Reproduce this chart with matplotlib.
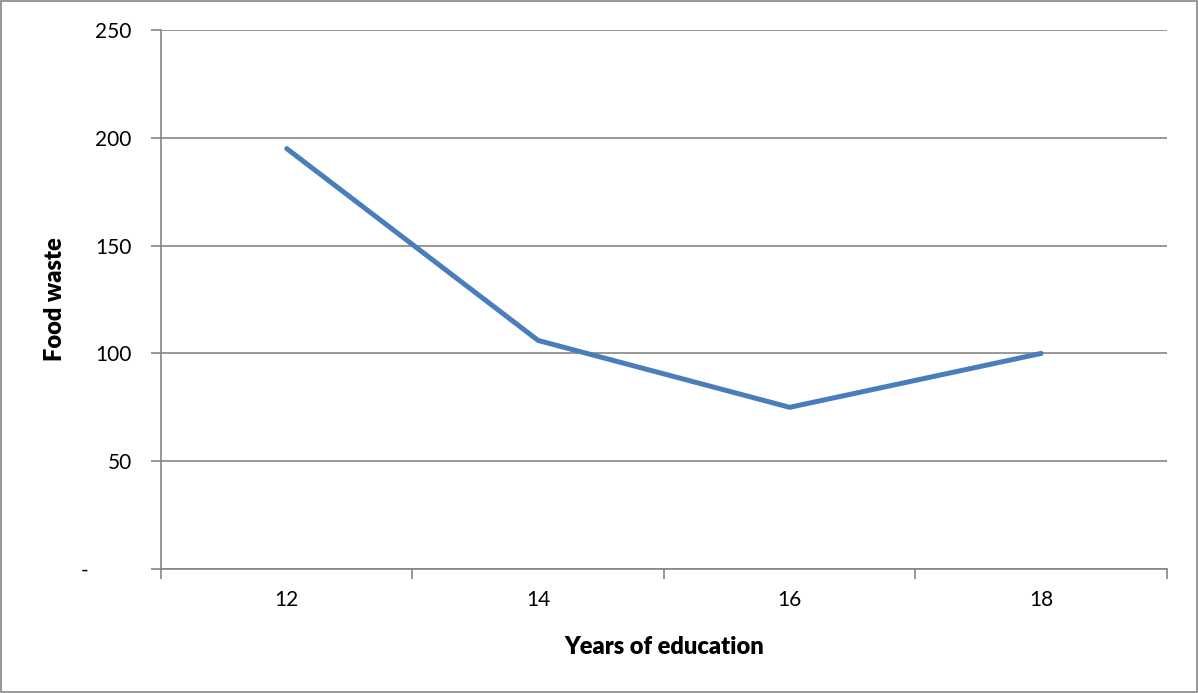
import matplotlib
matplotlib.use("Agg")
import matplotlib.pyplot as plt
from matplotlib.patches import Rectangle
from matplotlib.ticker import FixedLocator

years = ["12", "14", "16", "18"]
food_waste = [195, 106, 75, 100]
y_ticks = [0, 50, 100, 150, 200, 250]
# accounting-style zero: a dash padded to the left of the number column
y_tick_labels = ["-" + " " * 8, "50", "100", "150", "200", "250"]

plt.rcParams["font.family"] = ["Lato", "DejaVu Sans"]

fig = plt.figure(figsize=(11.98, 6.93), dpi=100)
ax = fig.add_axes([0.1344, 0.1789, 0.8396, 0.7778])

x = list(range(len(years)))
ax.plot(x, food_waste, color="#4a7ebb", linewidth=3.6,
        solid_capstyle="round", solid_joinstyle="round", zorder=3)

ax.set_xlim(-0.5, len(years) - 0.5)
ax.set_ylim(0, 250)

grid_color = "#868686"
ax.set_yticks(y_ticks)
ax.set_yticklabels(y_tick_labels, fontsize=15)
ax.yaxis.grid(True, color=grid_color, linewidth=1.2)
ax.set_axisbelow(True)

# category labels sit between the boundary tick marks
ax.xaxis.set_major_locator(FixedLocator([i - 0.5 for i in range(len(years) + 1)]))
ax.set_xticklabels([])
ax.xaxis.set_minor_locator(FixedLocator(x))
ax.set_xticklabels(years, minor=True, fontsize=15)
ax.tick_params(axis="x", which="minor", length=0, pad=15)
ax.tick_params(axis="x", which="major", length=7, width=1.2, color=grid_color)
ax.tick_params(axis="y", length=7, width=1.2, color=grid_color, pad=14)

for side in ("top", "right"):
    ax.spines[side].set_visible(False)
for side in ("left", "bottom"):
    ax.spines[side].set_color(grid_color)
    ax.spines[side].set_linewidth(1.2)

ax.set_xlabel("Years of education", fontsize=17, fontweight="heavy", labelpad=19)
ax.set_ylabel("Food waste", fontsize=17, fontweight="heavy")
ax.yaxis.set_label_coords(-0.094, 0.5)

fig.patches.append(Rectangle((0.001, 0.0015), 0.998, 0.997, transform=fig.transFigure,
                             fill=False, edgecolor="#868686", linewidth=1.2))

fig.savefig("out.png", dpi=100)
